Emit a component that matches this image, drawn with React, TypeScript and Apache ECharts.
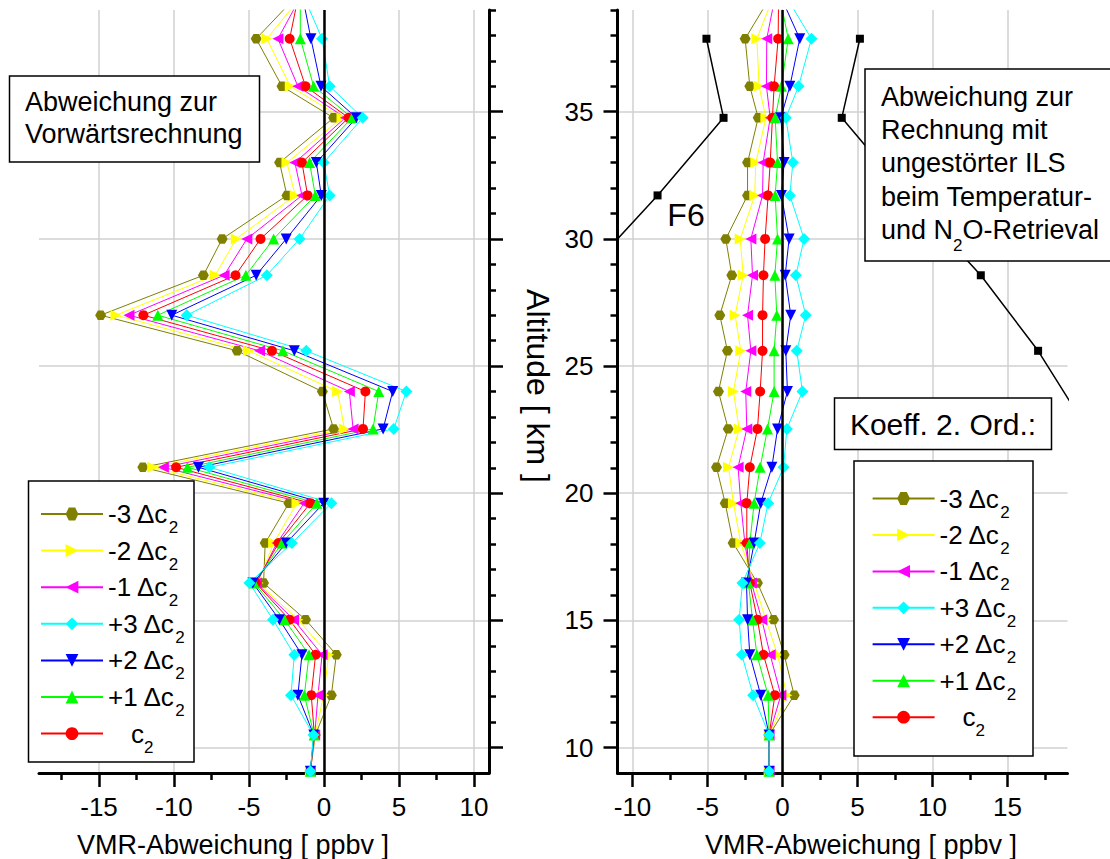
import React, { useEffect, useRef } from 'react';
import * as echarts from 'echarts';

// Altitude levels [km], bottom -> top
const levels = [9.07, 10.49, 12.06, 13.65, 15.03, 16.47, 18.04, 19.61, 21.02, 22.53, 24.0, 25.6, 27.0, 28.57, 30.0, 31.71, 33.0, 34.76, 36.0, 37.87, 39.6];

const seriesNames = ['-3 Δc2', '-2 Δc2', '-1 Δc2', '+3 Δc2', '+2 Δc2', '+1 Δc2', 'c2'];

// Left panel: Abweichung zur Vorwärtsrechnung [ppbv]
const fwdM3 = [-0.91, -0.58, 0.49, 0.82, -1.23, -4.03, -3.92, -2.34, -12.08, 0.64, -0.11, -5.79, -14.89, -8.04, -6.79, -2.47, -2.96, 0.64, -2.80, -4.52, -1.74];
const fwdM2 = [-0.91, -0.60, -0.02, 0.31, -1.74, -4.40, -3.36, -1.80, -11.42, 1.36, 0.91, -5.03, -13.87, -7.26, -5.85, -1.92, -2.47, 1.20, -2.25, -3.81, -1.42];
const fwdM1 = [-0.91, -0.62, -0.40, -0.13, -2.03, -4.50, -3.14, -1.32, -10.71, 1.94, 1.69, -4.30, -13.00, -6.66, -5.14, -1.47, -1.94, 1.42, -1.74, -3.07, -1.48];
const fwdP3 = [-0.91, -0.70, -2.20, -1.98, -3.40, -4.97, -2.14, 0.49, -7.64, 4.65, 5.49, -1.18, -9.15, -3.81, -1.63, 0.38, -0.02, 2.58, 0.38, -0.13, -1.40];
const fwdP2 = [-0.91, -0.68, -1.74, -1.47, -2.98, -4.74, -2.52, -0.02, -8.37, 3.94, 4.58, -1.98, -10.15, -4.52, -2.52, -0.18, -0.51, 2.16, -0.20, -0.87, -1.45];
const fwdP1 = [-0.91, -0.66, -1.31, -1.00, -2.63, -4.65, -2.80, -0.47, -9.10, 3.27, 3.65, -2.74, -11.08, -5.21, -3.36, -0.58, -0.96, 1.87, -0.69, -1.58, -1.58];
const fwdC2 = [-0.91, -0.64, -0.85, -0.56, -2.30, -4.55, -3.03, -0.91, -9.86, 2.60, 2.76, -3.47, -12.04, -5.90, -4.23, -1.09, -1.47, 1.64, -1.23, -2.29, -1.69];

// Right panel: Abweichung zur Rechnung mit ungestörter ILS [ppbv]
const ilsM3 = [-0.89, -0.89, 0.78, 0.11, -0.60, -1.67, -3.29, -3.82, -4.40, -3.62, -4.27, -3.67, -4.18, -3.38, -3.78, -2.33, -2.33, -1.62, -2.18, -2.49, -0.72];
const ilsM2 = [-0.89, -0.89, 0.29, -0.33, -1.11, -1.89, -2.78, -3.27, -3.60, -2.89, -3.27, -2.78, -3.16, -2.62, -2.82, -1.85, -1.78, -1.11, -1.56, -1.71, -0.56];
const ilsM1 = [-0.89, -0.89, -0.11, -0.82, -1.38, -2.07, -2.51, -2.78, -2.96, -2.38, -2.45, -2.11, -2.33, -2.00, -2.11, -1.33, -1.29, -0.82, -1.07, -1.05, -0.47];
const ilsP3 = [-0.89, -0.89, -1.96, -2.71, -2.89, -2.67, -1.51, -0.96, 0.07, 0.29, 1.33, 0.95, 1.55, 0.89, 1.44, 0.49, 0.69, 0.22, 1.07, 1.93, 0.17];
const ilsP2 = [-0.89, -0.89, -1.45, -2.18, -2.33, -2.40, -1.89, -1.45, -0.71, -0.33, 0.33, 0.22, 0.55, 0.18, 0.44, -0.07, 0.11, -0.11, 0.49, 1.15, -0.17];
const ilsP1 = [-0.89, -0.89, -0.96, -1.71, -2.00, -2.27, -2.18, -1.89, -1.49, -1.00, -0.56, -0.56, -0.38, -0.51, -0.33, -0.49, -0.33, -0.49, -0.07, 0.38, -0.20];
const ilsC2 = [-0.89, -0.89, -0.51, -1.27, -1.67, -2.18, -2.38, -2.38, -2.18, -1.67, -1.49, -1.33, -1.33, -1.27, -1.16, -0.96, -0.82, -0.67, -0.56, -0.29, -0.26];

// F6 bounds (right panel)
const f6Levels = [37.87, 34.76, 31.71, 28.57, 25.6, 22.53];
const f6Pos = [5.16, 3.95, 8.33, 13.22, 17.04, 20.3];
const f6Neg = [-5.07, -3.93, -8.33, -13.22, -17.04, -20.3];

// Tick values
const xMajorLeft = [-15, -10, -5, 0, 5, 10];
const xMinorLeft = [-17.5, -12.5, -7.5, -2.5, 2.5, 7.5];
const xMajorRight = [-10, -5, 0, 5, 10, 15];
const xMinorRight = [-7.5, -2.5, 2.5, 7.5, 12.5, 17.5];
const yMajor = [10, 15, 20, 25, 30, 35];
const yMinor = [11, 12, 13, 14, 16, 17, 18, 19, 21, 22, 23, 24, 26, 27, 28, 29, 31, 32, 33, 34, 36, 37, 38, 39];

const FONT = "'Liberation Sans', Arial, Helvetica, sans-serif";

const styles = [
  { color: '#808000', symbol: 'path://M0,50 L25,7 L75,7 L100,50 L75,93 L25,93 Z', size: 11 },
  { color: '#ffff00', symbol: 'path://M0,0 L100,50 L0,100 Z', size: 11 },
  { color: '#ff00ff', symbol: 'path://M100,0 L0,50 L100,100 Z', size: 11 },
  { color: '#00ffff', symbol: 'diamond', size: 12 },
  { color: '#0000ff', symbol: 'path://M0,0 L100,0 L50,100 Z', size: 11 },
  { color: '#00ff00', symbol: 'triangle', size: 11 },
  { color: '#ff0000', symbol: 'circle', size: 10 },
];

const fwdSets = [fwdM3, fwdM2, fwdM1, fwdP3, fwdP2, fwdP1, fwdC2];
const ilsSets = [ilsM3, ilsM2, ilsM1, ilsP3, ilsP2, ilsP1, ilsC2];
const drawOrder = [0, 1, 2, 6, 5, 4, 3];

function xAxes(gridIndex: number, min: number, max: number, major: number[], minor: number[], namePad: number[]) {
  return [
    {
      gridIndex, type: 'value', min, max, position: 'bottom',
      axisLine: { show: true, onZero: false, lineStyle: { color: '#000', width: 3 } },
      axisTick: { show: true, customValues: major, length: 14, lineStyle: { color: '#000', width: 2.5 } },
      axisLabel: { show: true, customValues: major, fontSize: 26, color: '#000', margin: 21, fontFamily: FONT },
      splitLine: { show: true, lineStyle: { color: '#d0d0d0', width: 1.5 } },
      name: 'VMR-Abweichung [ ppbv ]', nameLocation: 'middle', nameGap: 58,
      nameTextStyle: { fontSize: 27, color: '#000', fontFamily: FONT, padding: namePad },
    },
    {
      gridIndex, type: 'value', min, max, position: 'bottom',
      axisLine: { show: false, onZero: false },
      axisTick: { show: true, customValues: minor, length: 7, lineStyle: { color: '#000', width: 2.5 } },
      axisLabel: { show: false },
      splitLine: { show: false },
    },
  ];
}

function yAxes(gridIndex: number, position: string, showLabels: boolean) {
  return [
    {
      gridIndex, type: 'value', min: 9, max: 39, position,
      axisLine: { show: true, onZero: false, lineStyle: { color: '#000', width: 3 } },
      axisTick: { show: true, customValues: yMajor, length: 14, lineStyle: { color: '#000', width: 2.5 } },
      axisLabel: { show: showLabels, customValues: yMajor, fontSize: 26, color: '#000', margin: 24, fontFamily: FONT },
      splitLine: { show: true, lineStyle: { color: '#d0d0d0', width: 1.5 } },
    },
    {
      gridIndex, type: 'value', min: 9, max: 39, position,
      axisLine: { show: false, onZero: false },
      axisTick: { show: true, customValues: yMinor, length: 7, lineStyle: { color: '#000', width: 2.5 } },
      axisLabel: { show: false },
      splitLine: { show: false },
    },
  ];
}

function panelSeries(sets: number[][], xAxisIndex: number, yAxisIndex: number) {
  const out: any[] = [
    {
      type: 'line', name: 'zero-' + xAxisIndex, xAxisIndex, yAxisIndex, data: [], z: 1, silent: true,
      markLine: {
        silent: true, symbol: ['none', 'none'], label: { show: false },
        lineStyle: { color: '#000', width: 2.5, type: 'solid' },
        emphasis: { disabled: true },
        data: [{ xAxis: 0 }],
      },
    },
  ];
  drawOrder.forEach((k) => {
    const st = styles[k];
    out.push({
      type: 'line', name: seriesNames[k], xAxisIndex, yAxisIndex,
      data: levels.map((y, i) => [sets[k][i], y]),
      symbol: st.symbol, symbolSize: st.size, symbolKeepAspect: true,
      lineStyle: { color: st.color, width: 1 },
      itemStyle: { color: st.color },
      clip: true, z: 2,
    });
  });
  return out;
}

function legendFor(left: number, top: number, gap: number) {
  return {
    orient: 'vertical', left, top, padding: 0,
    itemWidth: 62, itemHeight: 16, itemGap: gap,
    selectedMode: false,
    data: seriesNames.map((n) => n),
    formatter: (name: string) => (name === 'c2' ? '{i|c}{s|2}' : name.slice(0, -1) + '{s|2}'),
    textStyle: {
      fontSize: 26, color: '#000', fontFamily: FONT, lineHeight: 30,
      rich: {
        s: { fontSize: 17, fontFamily: FONT, color: '#000', verticalAlign: 'top', padding: [20, 0, 0, 0] },
        i: { fontSize: 26, fontFamily: FONT, color: '#000', padding: [0, 0, 0, 23] },
      },
    },
    z: 6,
  };
}

function boxRect(x: number, y: number, w: number, h: number) {
  return {
    type: 'rect', z: 4, silent: true,
    shape: { x, y, width: w, height: h },
    style: { fill: '#fff', stroke: '#000', lineWidth: 1.5 },
  };
}

export default function App() {
  const ref = useRef<HTMLDivElement>(null);
  useEffect(() => {
    document.body.style.margin = '0';
    const chart = echarts.init(ref.current!, null, { renderer: 'svg' });
    const option: any = {
      animation: false,
      backgroundColor: '#fff',
      grid: [
        { left: 39, top: 10, width: 450, height: 763, outerBoundsMode: 'none' },
        { left: 617.5, top: 10, width: 450, height: 763, outerBoundsMode: 'none' },
      ],
      xAxis: [
        ...xAxes(0, -19, 11, xMajorLeft, xMinorLeft, [0, 62, 0, 0]),
        ...xAxes(1, -11, 19, xMajorRight, xMinorRight, [0, 0, 0, 37]),
      ],
      yAxis: [
        ...yAxes(0, 'right', false),
        ...yAxes(1, 'left', true),
      ],
      legend: [legendFor(40, 499, -0.4), legendFor(871.6, 483.5, -0.55)],
      series: [
        ...panelSeries(fwdSets, 0, 0),
        ...panelSeries(ilsSets, 2, 2),
        {
          type: 'line', name: 'F6 (+)', xAxisIndex: 2, yAxisIndex: 2,
          data: f6Levels.map((y, i) => [f6Pos[i], y]),
          symbol: 'rect', symbolSize: 8, clip: true, z: 2,
          lineStyle: { color: '#000', width: 1.5 }, itemStyle: { color: '#000' },
        },
        {
          type: 'line', name: 'F6 (-)', xAxisIndex: 2, yAxisIndex: 2,
          data: f6Levels.map((y, i) => [f6Neg[i], y]),
          symbol: 'rect', symbolSize: 8, clip: true, z: 2,
          lineStyle: { color: '#000', width: 1.5 }, itemStyle: { color: '#000' },
        },
      ],
      graphic: [
        boxRect(28.5, 481, 165.5, 281),
        boxRect(854, 461, 179, 295),
        boxRect(9.5, 76, 250, 86),
        boxRect(865, 69, 260, 192),
        boxRect(834.5, 398, 217, 51.5),
        {
          type: 'text', z: 5, silent: true,
          style: { text: 'Abweichung zur\nVorwärtsrechnung', x: 25, y: 85.5, fontSize: 27, lineHeight: 32.3, fontFamily: FONT, fill: '#000', verticalAlign: 'top', align: 'left' },
        },
        {
          type: 'text', z: 5, silent: true,
          style: {
            text: 'Abweichung zur\nRechnung mit\nungestörter ILS\nbeim Temperatur-\nund N{s|2}O-Retrieval',
            x: 881, y: 80, fontSize: 27, lineHeight: 33.3, fontFamily: FONT, fill: '#000', verticalAlign: 'top', align: 'left',
            rich: { s: { fontSize: 17, fontFamily: FONT, fill: '#000', verticalAlign: 'top', padding: [23.5, 0, 0, 0] } },
          },
        },
        {
          type: 'text', z: 5, silent: true,
          style: { text: 'Koeff. 2. Ord.:', x: 943, y: 424, fontSize: 30, fontFamily: FONT, fill: '#000', align: 'center', verticalAlign: 'middle' },
        },
        {
          type: 'text', z: 5, silent: true,
          style: { text: 'F6', x: 686, y: 215, fontSize: 32, fontFamily: FONT, fill: '#000', align: 'center', verticalAlign: 'middle' },
        },
        {
          type: 'text', z: 5, silent: true, x: 538, y: 386, rotation: -Math.PI / 2,
          style: { text: 'Altitude [ km ]', x: 0, y: 0, fontSize: 32, fontFamily: FONT, fill: '#000', align: 'center', verticalAlign: 'middle' },
        },
      ],
    };
    chart.setOption(option);
    return () => chart.dispose();
  }, []);
  return <div ref={ref} style={{ position: 'absolute', left: 0, top: 0, width: 1110, height: 859 }} />;
}
